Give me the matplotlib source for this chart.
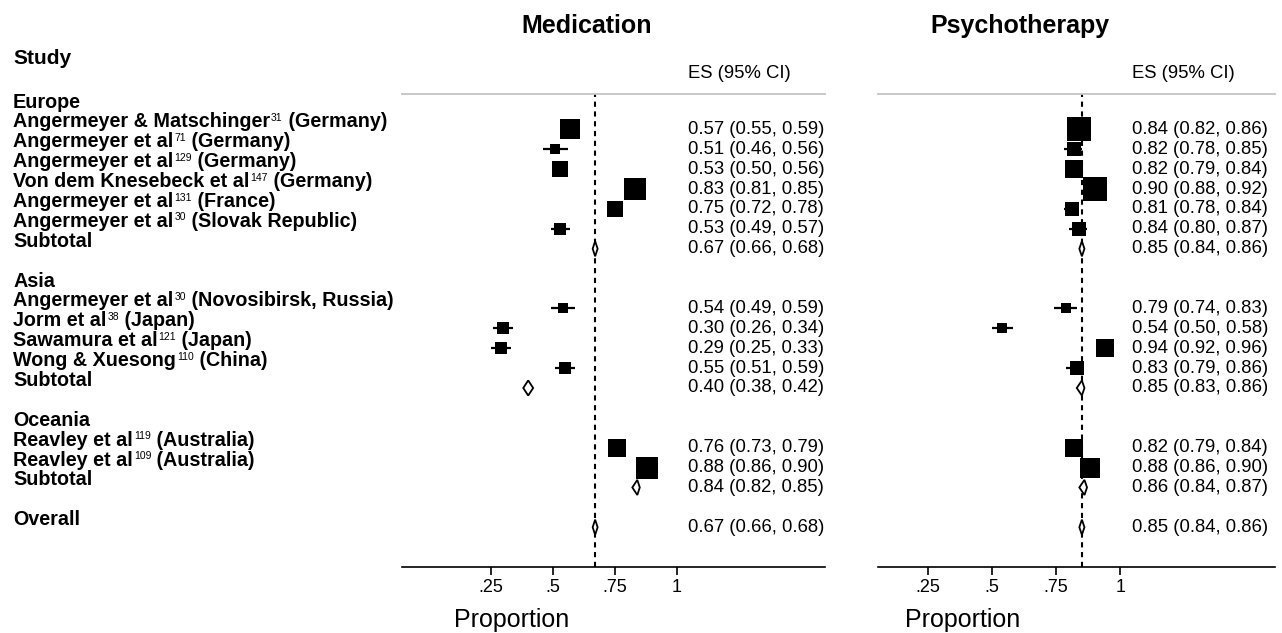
import matplotlib
matplotlib.use("Agg")
import matplotlib.pyplot as plt
import numpy as np
from matplotlib.patches import Polygon
from matplotlib import transforms

plt.rcParams['font.family'] = ['Liberation Sans', 'DejaVu Sans']

# ---- data ----
regions = ["Europe", "Asia", "Oceania"]
study_names = [
    "Angermeyer & Matschinger", "Angermeyer et al", "Angermeyer et al",
    "Von dem Knesebeck et al", "Angermeyer et al", "Angermeyer et al",
    "Angermeyer et al", "Jorm et al", "Sawamura et al", "Wong & Xuesong",
    "Reavley et al", "Reavley et al",
]
study_refs = ["31", "71", "129", "147", "131", "30", "30", "38", "121", "110", "119", "109"]
study_place = ["Germany", "Germany", "Germany", "Germany", "France", "Slovak Republic",
               "Novosibirsk, Russia", "Japan", "Japan", "China", "Australia", "Australia"]
study_region = ["Europe"] * 6 + ["Asia"] * 4 + ["Oceania"] * 2

med_es = [0.57, 0.51, 0.53, 0.83, 0.75, 0.53, 0.54, 0.30, 0.29, 0.55, 0.76, 0.88]
med_lo = [0.55, 0.46, 0.50, 0.81, 0.72, 0.49, 0.49, 0.26, 0.25, 0.51, 0.73, 0.86]
med_hi = [0.59, 0.56, 0.56, 0.85, 0.78, 0.57, 0.59, 0.34, 0.33, 0.59, 0.79, 0.90]
med_wt = [44, 10, 26, 48, 26, 14, 12, 14, 14, 14, 29, 48]
med_sub_es = [0.67, 0.40, 0.84]
med_sub_lo = [0.66, 0.38, 0.82]
med_sub_hi = [0.68, 0.42, 0.85]
med_all = [0.67, 0.66, 0.68]

psy_es = [0.84, 0.82, 0.82, 0.90, 0.81, 0.84, 0.79, 0.54, 0.94, 0.83, 0.82, 0.88]
psy_lo = [0.82, 0.78, 0.79, 0.88, 0.78, 0.80, 0.74, 0.50, 0.92, 0.79, 0.79, 0.86]
psy_hi = [0.86, 0.85, 0.84, 0.92, 0.84, 0.87, 0.83, 0.58, 0.96, 0.86, 0.84, 0.90]
psy_wt = [60, 20, 32, 62, 22, 20, 10, 10, 36, 17, 29, 40]
psy_sub_es = [0.85, 0.85, 0.86]
psy_sub_lo = [0.84, 0.83, 0.84]
psy_sub_hi = [0.86, 0.86, 0.87]
psy_all = [0.85, 0.84, 0.86]

tick_vals = [0.25, 0.5, 0.75, 1.0]
tick_labels = [".25", ".5", ".75", "1"]

# ---- row layout: header, studies, subtotal, blank ... overall ----
rows = []  # (kind, label, index)
for g, reg in enumerate(regions):
    rows.append(("head", reg, None))
    for i, r in enumerate(study_region):
        if r == reg:
            rows.append(("study", study_names[i], i))
    rows.append(("sub", "Subtotal", g))
    rows.append(("blank", "", None))
rows.append(("all", "Overall", None))

fig = plt.figure(figsize=(12.82, 6.33), dpi=100)
W, H = 1282, 633
ax_med = fig.add_axes([402 / W, 1 - 567 / H, 423 / W, 473 / H])
ax_psy = fig.add_axes([878 / W, 1 - 567 / H, 397 / W, 473 / H])


def diamond(ax, y, es, lo, hi, h=0.38):
    pts = [(lo, y), (es, y - h), (hi, y), (es, y + h)]
    ax.add_patch(Polygon(pts, closed=True, fc='white', ec='black', lw=1.3, zorder=4))


def fmt(es, lo, hi):
    return f"{es:.2f} ({lo:.2f}, {hi:.2f})"


def panel(ax, es, lo, hi, wt, s_es, s_lo, s_hi, tot, xlim, title, title_x, xlab_x):
    ax.set_xlim(*xlim)
    ax.set_ylim(23.0, -0.78)
    ax.axvline(tot[0], color='black', ls=(0, (2.5, 2.2)), lw=1.5, zorder=1)
    text_x = 1.045
    for r, (kind, lab, idx) in enumerate(rows):
        if kind == "study":
            ax.hlines(r, lo[idx], hi[idx], color='black', lw=1.6, zorder=2)
            side = np.sqrt(wt[idx] * 10) * 0.72
            ax.scatter([es[idx]], [r], marker='s', s=side ** 2, color='black',
                       lw=0, zorder=3)
            ax.text(text_x, r, fmt(es[idx], lo[idx], hi[idx]), fontsize=13.3,
                    va='center', ha='left')
        elif kind == "sub":
            diamond(ax, r, s_es[idx], s_lo[idx], s_hi[idx])
            ax.text(text_x, r, fmt(s_es[idx], s_lo[idx], s_hi[idx]), fontsize=13.3,
                    va='center', ha='left')
        elif kind == "all":
            diamond(ax, r, tot[0], tot[1], tot[2])
            ax.text(text_x, r, fmt(*tot), fontsize=13.3, va='center', ha='left')

    for sp in ['left', 'right']:
        ax.spines[sp].set_visible(False)
    ax.spines['top'].set_color('#c4c4c4')
    ax.spines['top'].set_linewidth(1.3)
    ax.spines['bottom'].set_linewidth(1.2)
    ax.set_yticks([])
    ax.set_xticks(tick_vals)
    ax.set_xticklabels(tick_labels)
    ax.tick_params(axis='x', direction='out', length=6, width=1.2, labelsize=13, pad=3)

    tr_top = transforms.blended_transform_factory(ax.transData, fig.transFigure)
    ax.text(text_x, 1 - 73 / H, "ES (95% CI)", transform=tr_top, fontsize=13.3,
            va='center', ha='left')
    ax.text(xlab_x, 1 - 620 / H, "Proportion", transform=tr_top, fontsize=18,
            va='center', ha='center')
    fig.text(title_x / W, 1 - 26 / H, title, fontsize=18, fontweight='bold',
             ha='center', va='center')


panel(ax_med, med_es, med_lo, med_hi, med_wt, med_sub_es, med_sub_lo, med_sub_hi,
      med_all, (-0.109, 1.597), "Medication", 587, 0.335)
panel(ax_psy, psy_es, psy_lo, psy_hi, psy_wt, psy_sub_es, psy_sub_lo, psy_sub_hi,
      psy_all, (0.056, 1.602), "Psychotherapy", 1020, 0.386)

# left-hand study labels (name, small superscript ref, place)
renderer = fig.canvas.get_renderer()
tr_lab = transforms.blended_transform_factory(fig.transFigure, ax_med.transData)
base = transforms.offset_copy(tr_lab, fig=fig, x=0, y=-7, units='dots')
for r, (kind, lab, idx) in enumerate(rows):
    if not lab:
        continue
    t1 = ax_med.text(13 / W, r - 0.45, lab, transform=base, fontsize=14.2,
                     fontweight='bold', va='baseline', ha='left', clip_on=False)
    if kind == "study":
        w1 = t1.get_window_extent(renderer).width
        tr_sup = transforms.offset_copy(tr_lab, fig=fig, x=w1 + 1, y=-7 + 6.5, units='dots')
        t2 = ax_med.text(13 / W, r - 0.45, study_refs[idx], transform=tr_sup,
                         fontsize=7.5, va='baseline', ha='left', clip_on=False)
        w2 = t2.get_window_extent(renderer).width
        tr_post = transforms.offset_copy(tr_lab, fig=fig, x=w1 + w2 + 1, y=-7, units='dots')
        ax_med.text(13 / W, r - 0.45, " (" + study_place[idx] + ")", transform=tr_post,
                    fontsize=14.2, fontweight='bold', va='baseline', ha='left', clip_on=False)

fig.text(13 / W, 1 - 58 / H, "Study", fontsize=15, fontweight='bold',
         ha='left', va='center')

fig.savefig("out.png", dpi=100)
